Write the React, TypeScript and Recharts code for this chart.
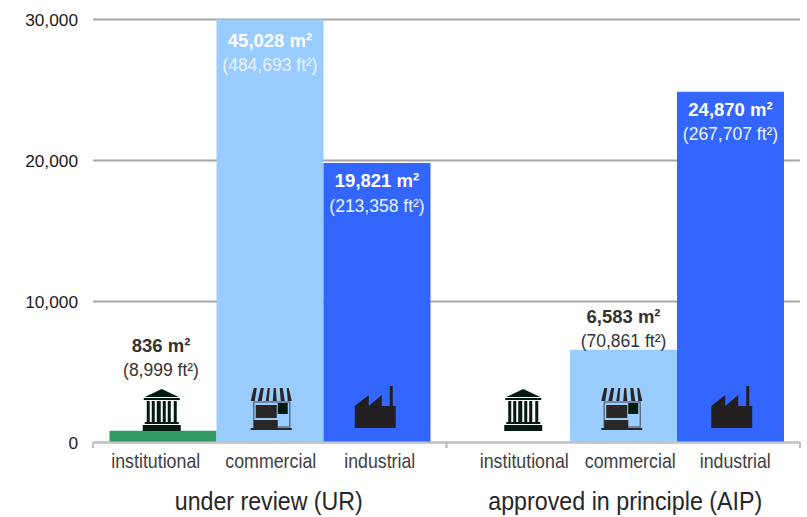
import React from "react";
import { BarChart, Bar, XAxis, YAxis, CartesianGrid, LabelList } from "recharts";

const groups = ["under review (UR)", "approved in principle (AIP)"];
const institutional = [836, 0];
const commercial = [45028, 6583];
const industrial = [19821, 24870];
const yTicks = [0, 10000, 20000, 30000];
const subLabels = ["institutional", "commercial", "industrial"];
const m2Institutional = ["836 m²", ""];
const ft2Institutional = ["(8,999 ft²)", ""];
const m2Commercial = ["45,028 m²", "6,583 m²"];
const ft2Commercial = ["(484,693 ft²)", "(70,861 ft²)"];
const m2Industrial = ["19,821 m²", "24,870 m²"];
const ft2Industrial = ["(213,358 ft²)", "(267,707 ft²)"];

const data = groups.map((g, i) => ({
  group: g,
  institutional: institutional[i],
  commercial: commercial[i],
  industrial: industrial[i],
}));

const FONT = "'Liberation Sans', Arial, sans-serif";
const PLOT_TOP = 19.5;
const HALF_BAND = 176.75;

// offsets from the group centre, the source is not quite regular
const subOffsets = [
  [-114, 1, 110],
  [-99, 7, 112],
];
const subWidths = [89, 91, 71];
const titleOffsets = [-1, 2];
const titleWidths = [188, 274];
const iconOffsets = [
  [-108, 2, 106],
  [-100, -1, 109],
];

const Temple = ({ cx }: { cx: number }) => (
  <g transform={`translate(${cx - 19} 389)`} fill="#04190f">
    <path d="M19 0 L36 8 L2 8 Z" />
    <rect x={1} y={9} width={36} height={2} />
    <rect x={4} y={12} width={3} height={21} />
    <rect x={9} y={12} width={3} height={21} />
    <rect x={14} y={12} width={4} height={21} />
    <rect x={20} y={12} width={3} height={21} />
    <rect x={25} y={12} width={3} height={21} />
    <rect x={31} y={12} width={3} height={21} />
    <rect x={2} y={33} width={34} height={2} />
    <rect x={0} y={36} width={38} height={6} />
  </g>
);

const Shop = ({ cx }: { cx: number }) => (
  <g transform={`translate(${cx - 21} 387)`}>
    <path d="M3 1 L6 1 L4 14 L0 14 Z M10 1 L13 1 L11 14 L7 14 Z M17 1 L19 1 L18 14 L15 14 Z M23 1 L25 1 L26 14 L22 14 Z M29 1 L32 1 L34 14 L30 14 Z M36 1 L38 1 L41 14 L37 14 Z" fill="#2b2626" />
    <rect x={3} y={15} width={36} height={25} fill="none" stroke="#5f7189" strokeWidth={1.5} />
    <rect x={5} y={18} width={21} height={13} fill="#2b2626" />
    <rect x={3} y={33} width={24} height={8} fill="#2b2626" />
    <rect x={27} y={16} width={10} height={11} fill="#04190f" />
    <rect x={0} y={41} width={41} height={2} fill="#2b2626" />
  </g>
);

const Factory = ({ cx }: { cx: number }) => (
  <g transform={`translate(${cx - 21} 385)`} fill="#231f20">
    <path d="M0 43 L0 21 L14 10 L14 21 L27 10 L27 21 L35 21 L35 1 L38 1 L38 21 L41 21 L41 43 Z" />
  </g>
);

const icons = [Temple, Shop, Factory];

// category tick: sub labels, group title, pictograms and end marks for one group
const GroupTick = (props: any) => {
  const { x, index, payload } = props;
  return (
    <g>
      <line x1={x - HALF_BAND} x2={x - HALF_BAND} y1={442} y2={448} stroke="#c0c0c0" strokeWidth={2} />
      <line x1={x + HALF_BAND} x2={x + HALF_BAND} y1={442} y2={448} stroke="#c0c0c0" strokeWidth={2} />
      {subLabels.map((s, i) => (
        <text key={s} x={x + subOffsets[index][i]} y={468} textAnchor="middle" fontFamily={FONT} fontSize={21} fill="#404040"
          textLength={subWidths[i]} lengthAdjust="spacingAndGlyphs">
          {s}
        </text>
      ))}
      <text x={x + titleOffsets[index]} y={510} textAnchor="middle" fontFamily={FONT} fontSize={26} fill="#262626"
        textLength={titleWidths[index]} lengthAdjust="spacingAndGlyphs">
        {payload.value}
      </text>
      {icons.map((Icon, i) => (
        <Icon key={i} cx={x + iconOffsets[index][i]} />
      ))}
    </g>
  );
};

// draws the two line value label for one bar
const makeLabel = (m2: string[], ft2: string[], boldColor: string[], color: string[], shift: number[], lift: number[]) => (props: any) => {
  const { x, y, width, index } = props;
  if (!m2[index]) return null;
  const cx = x + width / 2 + shift[index];
  const first = Math.max(y, PLOT_TOP) + lift[index];
  return (
    <g>
      <text x={cx} y={first} textAnchor="middle" fontFamily={FONT} fontSize={18.5} fontWeight="bold" fill={boldColor[index]}>
        {m2[index]}
      </text>
      <text x={cx} y={first + 24.5} textAnchor="middle" fontFamily={FONT} fontSize={17.5} fill={color[index]}>
        {ft2[index]}
      </text>
    </g>
  );
};

const INK = "#333333";
const PALE = "#eaf3ff";
const WHITE = "#ffffff";

const App = () => (
  <div style={{ position: "absolute", left: 0, top: 0 }}>
    <BarChart
      width={807}
      height={517}
      data={data}
      margin={{ top: 19.5, right: 7, bottom: 0, left: 0 }}
      barCategoryGap={16.5}
      barGap={0}
    >
      <CartesianGrid vertical={false} horizontal stroke="#a6a6a6" strokeWidth={2} />
      <XAxis
        dataKey="group"
        interval={0}
        height={74.5}
        axisLine={{ stroke: "#c4c4c4", strokeWidth: 2 }}
        tickLine={false}
        tick={<GroupTick />}
      />
      <YAxis
        type="number"
        domain={[0, 30000]}
        ticks={yTicks}
        allowDataOverflow
        width={93}
        axisLine={false}
        tickLine={false}
        tickMargin={9}
        tickFormatter={(v: number) => v.toLocaleString("en-US")}
        tick={{ fontFamily: FONT, fontSize: 17.3, fill: "#1a1a1a" }}
      />
      <Bar dataKey="institutional" fill="#339966" isAnimationActive={false}>
        <LabelList content={makeLabel(m2Institutional, ft2Institutional, [INK, INK], [INK, INK], [-2, 0], [-79, 0])} />
      </Bar>
      <Bar dataKey="commercial" fill="#99ccff" isAnimationActive={false}>
        <LabelList content={makeLabel(m2Commercial, ft2Commercial, [WHITE, INK], [PALE, INK], [0, 0], [27, -27])} />
      </Bar>
      <Bar dataKey="industrial" fill="#3366ff" isAnimationActive={false}>
        <LabelList content={makeLabel(m2Industrial, ft2Industrial, [WHITE, WHITE], [PALE, PALE], [0, 0], [24, 24])} />
      </Bar>
    </BarChart>
  </div>
);

export default App;
